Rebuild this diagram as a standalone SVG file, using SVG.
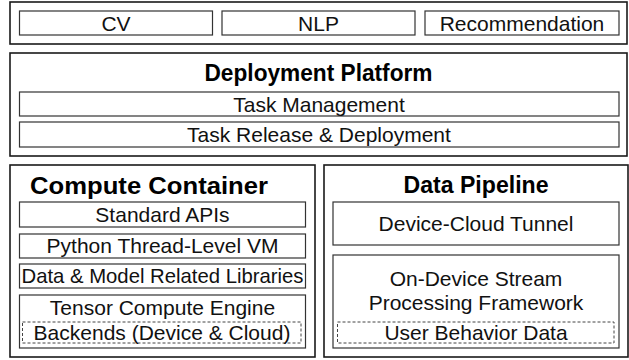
<svg xmlns="http://www.w3.org/2000/svg" width="629" height="360" viewBox="0 0 629 360">
<style>
.outer{fill:#fff;stroke:#1a1a1a;stroke-width:1.6}
.box{fill:#fff;stroke:#333;stroke-width:1.2}
.dash{fill:none;stroke:#444;stroke-width:1;stroke-dasharray:3 2}
.t{font-family:"Liberation Sans",Arial,sans-serif;font-size:21px;fill:#111;text-anchor:middle}
.h{font-family:"Liberation Sans",Arial,sans-serif;font-size:24px;font-weight:bold;fill:#000;text-anchor:middle}
</style>
<rect width="629" height="360" fill="#fff"/>
<g id="applications">
<rect class="outer" x="10" y="2" width="617" height="42"/>
<g id="cv"><rect class="box" x="19.5" y="11" width="193" height="24"/><text class="t" x="116" y="30.5">CV</text></g>
<g id="nlp"><rect class="box" x="222" y="11" width="193" height="24"/><text class="t" x="318.5" y="30.5">NLP</text></g>
<g id="recommendation"><rect class="box" x="425" y="11" width="194" height="24"/><text class="t" x="522" y="30.5">Recommendation</text></g>
</g>
<g id="deployment-platform">
<rect class="outer" x="10" y="53" width="617" height="103"/>
<text class="h" x="318.5" y="81" textLength="228" lengthAdjust="spacingAndGlyphs">Deployment Platform</text>
<g id="task-management"><rect class="box" x="19.5" y="92" width="599.5" height="24"/><text class="t" x="319" y="111.5">Task Management</text></g>
<g id="task-release"><rect class="box" x="19.5" y="122" width="599.5" height="25"/><text class="t" x="319" y="142">Task Release &amp; Deployment</text></g>
</g>
<g id="compute-container">
<rect class="outer" x="10" y="165" width="305" height="192"/>
<text class="h" x="149" y="194" textLength="238" lengthAdjust="spacingAndGlyphs">Compute Container</text>
<g id="standard-apis"><rect class="box" x="19.5" y="202" width="286" height="25"/><text class="t" x="162.5" y="222">Standard APIs</text></g>
<g id="python-vm"><rect class="box" x="19.5" y="234" width="286" height="24"/><text class="t" x="162.5" y="253">Python Thread-Level VM</text></g>
<g id="libraries"><rect class="box" x="19.5" y="264" width="286" height="24"/><text class="t" x="162.5" y="283" textLength="282" lengthAdjust="spacingAndGlyphs">Data &amp; Model Related Libraries</text></g>
<g id="tensor-engine"><rect class="box" x="19.5" y="295" width="286" height="53"/><text class="t" x="162.5" y="315">Tensor Compute Engine</text>
<g id="backends"><rect class="dash" x="22.5" y="322" width="278.5" height="21"/><text class="t" x="162" y="340">Backends (Device &amp; Cloud)</text></g></g>
</g>
<g id="data-pipeline">
<rect class="outer" x="324" y="165" width="304" height="192"/>
<text class="h" x="476" y="193" textLength="145" lengthAdjust="spacingAndGlyphs">Data Pipeline</text>
<g id="device-cloud-tunnel"><rect class="box" x="333" y="202" width="286" height="43"/><text class="t" x="476" y="231">Device-Cloud Tunnel</text></g>
<g id="stream-framework"><rect class="box" x="333" y="255" width="286" height="93"/><text class="t" x="476" y="286">On-Device Stream</text><text class="t" x="476" y="310">Processing Framework</text>
<g id="user-behavior-data"><rect class="dash" x="337.5" y="322" width="276.5" height="21"/><text class="t" x="476" y="340">User Behavior Data</text></g></g>
</g>
<g id="connectors"/>
</svg>
